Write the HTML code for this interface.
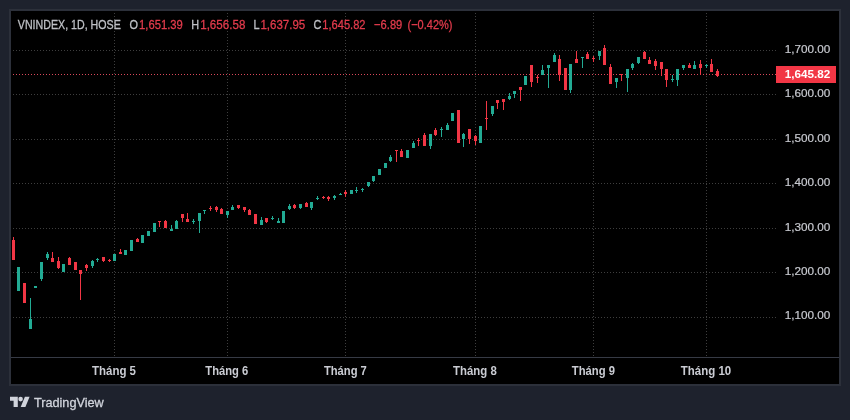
<!DOCTYPE html>
<html><head><meta charset="utf-8">
<style>
html,body{margin:0;padding:0;}
body{width:850px;height:420px;background:#1e222d;position:relative;overflow:hidden;font-family:"Liberation Sans",sans-serif;}
#panel{position:absolute;left:9px;top:9px;width:828px;height:373px;border:2px solid #2c303a;background:#000;}
svg{position:absolute;left:0;top:0;will-change:transform;}
svg text{font-family:"Liberation Sans",sans-serif;}
</style></head><body>
<div id="panel"></div>
<svg width="850" height="420" viewBox="0 0 850 420">
<line x1="13" y1="50.5" x2="776" y2="50.5" stroke="#3e3e3e" stroke-width="1" stroke-dasharray="1 2"/>
<line x1="13" y1="94.5" x2="776" y2="94.5" stroke="#3e3e3e" stroke-width="1" stroke-dasharray="1 2"/>
<line x1="13" y1="139.5" x2="776" y2="139.5" stroke="#3e3e3e" stroke-width="1" stroke-dasharray="1 2"/>
<line x1="13" y1="183.5" x2="776" y2="183.5" stroke="#3e3e3e" stroke-width="1" stroke-dasharray="1 2"/>
<line x1="13" y1="228.5" x2="776" y2="228.5" stroke="#3e3e3e" stroke-width="1" stroke-dasharray="1 2"/>
<line x1="13" y1="272.5" x2="776" y2="272.5" stroke="#3e3e3e" stroke-width="1" stroke-dasharray="1 2"/>
<line x1="13" y1="317.5" x2="776" y2="317.5" stroke="#3e3e3e" stroke-width="1" stroke-dasharray="1 2"/>
<line x1="114.5" y1="13" x2="114.5" y2="357" stroke="#3e3e3e" stroke-width="1" stroke-dasharray="1 2"/>
<line x1="227.5" y1="13" x2="227.5" y2="357" stroke="#3e3e3e" stroke-width="1" stroke-dasharray="1 2"/>
<line x1="345.5" y1="13" x2="345.5" y2="357" stroke="#3e3e3e" stroke-width="1" stroke-dasharray="1 2"/>
<line x1="475.5" y1="13" x2="475.5" y2="357" stroke="#3e3e3e" stroke-width="1" stroke-dasharray="1 2"/>
<line x1="593.5" y1="13" x2="593.5" y2="357" stroke="#3e3e3e" stroke-width="1" stroke-dasharray="1 2"/>
<line x1="706.5" y1="13" x2="706.5" y2="357" stroke="#3e3e3e" stroke-width="1" stroke-dasharray="1 2"/>
<line x1="13" y1="74.5" x2="776" y2="74.5" stroke="#d9485a" stroke-width="1" stroke-dasharray="1 2"/>
<rect x="13" y="237" width="1" height="23" fill="#f23645"/>
<rect x="12" y="240" width="3" height="20" fill="#f23645"/>
<rect x="18" y="267" width="1" height="24" fill="#22ab94"/>
<rect x="17" y="267" width="3" height="24" fill="#22ab94"/>
<rect x="24" y="283" width="1" height="20" fill="#f23645"/>
<rect x="23" y="283" width="3" height="20" fill="#f23645"/>
<rect x="30" y="298" width="1" height="31" fill="#22ab94"/>
<rect x="29" y="319" width="3" height="10" fill="#22ab94"/>
<rect x="35" y="286" width="1" height="2" fill="#22ab94"/>
<rect x="34" y="286" width="3" height="2" fill="#22ab94"/>
<rect x="41" y="262" width="1" height="19" fill="#22ab94"/>
<rect x="40" y="262" width="3" height="17" fill="#22ab94"/>
<rect x="47" y="252" width="1" height="8" fill="#22ab94"/>
<rect x="46" y="254" width="3" height="4" fill="#22ab94"/>
<rect x="52" y="252" width="1" height="10" fill="#f23645"/>
<rect x="51" y="258" width="3" height="4" fill="#f23645"/>
<rect x="58" y="257" width="1" height="12" fill="#f23645"/>
<rect x="57" y="261" width="3" height="7" fill="#f23645"/>
<rect x="63" y="264" width="1" height="8" fill="#22ab94"/>
<rect x="62" y="264" width="3" height="8" fill="#22ab94"/>
<rect x="69" y="257" width="1" height="8" fill="#f23645"/>
<rect x="68" y="258" width="3" height="7" fill="#f23645"/>
<rect x="75" y="262" width="1" height="8" fill="#f23645"/>
<rect x="74" y="262" width="3" height="8" fill="#f23645"/>
<rect x="80" y="270" width="1" height="30" fill="#f23645"/>
<rect x="79" y="270" width="3" height="4" fill="#f23645"/>
<rect x="86" y="264" width="1" height="7" fill="#f23645"/>
<rect x="85" y="265" width="3" height="3" fill="#f23645"/>
<rect x="92" y="260" width="1" height="8" fill="#22ab94"/>
<rect x="91" y="261" width="3" height="5" fill="#22ab94"/>
<rect x="97" y="258" width="1" height="4" fill="#22ab94"/>
<rect x="96" y="259" width="3" height="1" fill="#22ab94"/>
<rect x="103" y="257" width="1" height="5" fill="#f23645"/>
<rect x="102" y="257" width="3" height="4" fill="#f23645"/>
<rect x="109" y="259" width="1" height="3" fill="#f23645"/>
<rect x="108" y="260" width="3" height="1" fill="#f23645"/>
<rect x="114" y="254" width="1" height="7" fill="#22ab94"/>
<rect x="113" y="254" width="3" height="7" fill="#22ab94"/>
<rect x="120" y="249" width="1" height="5" fill="#f23645"/>
<rect x="119" y="252" width="3" height="2" fill="#f23645"/>
<rect x="125" y="250" width="1" height="5" fill="#22ab94"/>
<rect x="124" y="250" width="3" height="5" fill="#22ab94"/>
<rect x="131" y="240" width="1" height="11" fill="#22ab94"/>
<rect x="130" y="240" width="3" height="11" fill="#22ab94"/>
<rect x="137" y="238" width="1" height="4" fill="#f23645"/>
<rect x="136" y="239" width="3" height="3" fill="#f23645"/>
<rect x="142" y="235" width="1" height="8" fill="#22ab94"/>
<rect x="141" y="235" width="3" height="8" fill="#22ab94"/>
<rect x="148" y="231" width="1" height="5" fill="#22ab94"/>
<rect x="147" y="231" width="3" height="5" fill="#22ab94"/>
<rect x="154" y="223" width="1" height="9" fill="#22ab94"/>
<rect x="153" y="223" width="3" height="9" fill="#22ab94"/>
<rect x="159" y="221" width="1" height="6" fill="#f23645"/>
<rect x="158" y="221" width="3" height="1" fill="#f23645"/>
<rect x="165" y="220" width="1" height="8" fill="#f23645"/>
<rect x="164" y="221" width="3" height="7" fill="#f23645"/>
<rect x="171" y="225" width="1" height="6" fill="#22ab94"/>
<rect x="170" y="229" width="3" height="2" fill="#22ab94"/>
<rect x="176" y="220" width="1" height="9" fill="#22ab94"/>
<rect x="175" y="221" width="3" height="8" fill="#22ab94"/>
<rect x="182" y="214" width="1" height="8" fill="#f23645"/>
<rect x="181" y="214" width="3" height="4" fill="#f23645"/>
<rect x="187" y="213" width="1" height="9" fill="#f23645"/>
<rect x="186" y="219" width="3" height="3" fill="#f23645"/>
<rect x="193" y="219" width="1" height="5" fill="#22ab94"/>
<rect x="192" y="221" width="3" height="1" fill="#22ab94"/>
<rect x="199" y="213" width="1" height="20" fill="#22ab94"/>
<rect x="198" y="213" width="3" height="8" fill="#22ab94"/>
<rect x="204" y="210" width="1" height="4" fill="#22ab94"/>
<rect x="203" y="210" width="3" height="1" fill="#22ab94"/>
<rect x="210" y="206" width="1" height="5" fill="#f23645"/>
<rect x="209" y="208" width="3" height="1" fill="#f23645"/>
<rect x="216" y="206" width="1" height="6" fill="#f23645"/>
<rect x="215" y="207" width="3" height="3" fill="#f23645"/>
<rect x="221" y="208" width="1" height="6" fill="#f23645"/>
<rect x="220" y="209" width="3" height="5" fill="#f23645"/>
<rect x="227" y="211" width="1" height="7" fill="#22ab94"/>
<rect x="226" y="211" width="3" height="4" fill="#22ab94"/>
<rect x="232" y="205" width="1" height="5" fill="#22ab94"/>
<rect x="231" y="207" width="3" height="3" fill="#22ab94"/>
<rect x="238" y="205" width="1" height="4" fill="#f23645"/>
<rect x="237" y="205" width="3" height="3" fill="#f23645"/>
<rect x="244" y="207" width="1" height="5" fill="#f23645"/>
<rect x="243" y="207" width="3" height="3" fill="#f23645"/>
<rect x="249" y="209" width="1" height="6" fill="#f23645"/>
<rect x="248" y="210" width="3" height="5" fill="#f23645"/>
<rect x="255" y="214" width="1" height="10" fill="#f23645"/>
<rect x="254" y="214" width="3" height="10" fill="#f23645"/>
<rect x="261" y="217" width="1" height="8" fill="#22ab94"/>
<rect x="260" y="220" width="3" height="5" fill="#22ab94"/>
<rect x="266" y="218" width="1" height="5" fill="#f23645"/>
<rect x="265" y="218" width="3" height="4" fill="#f23645"/>
<rect x="272" y="216" width="1" height="4" fill="#22ab94"/>
<rect x="271" y="218" width="3" height="1" fill="#22ab94"/>
<rect x="278" y="218" width="1" height="5" fill="#22ab94"/>
<rect x="277" y="221" width="3" height="2" fill="#22ab94"/>
<rect x="283" y="211" width="1" height="12" fill="#22ab94"/>
<rect x="282" y="211" width="3" height="12" fill="#22ab94"/>
<rect x="289" y="204" width="1" height="6" fill="#22ab94"/>
<rect x="288" y="206" width="3" height="3" fill="#22ab94"/>
<rect x="294" y="204" width="1" height="5" fill="#f23645"/>
<rect x="293" y="205" width="3" height="3" fill="#f23645"/>
<rect x="300" y="204" width="1" height="5" fill="#22ab94"/>
<rect x="299" y="204" width="3" height="4" fill="#22ab94"/>
<rect x="306" y="202" width="1" height="5" fill="#f23645"/>
<rect x="305" y="203" width="3" height="4" fill="#f23645"/>
<rect x="311" y="202" width="1" height="8" fill="#22ab94"/>
<rect x="310" y="202" width="3" height="6" fill="#22ab94"/>
<rect x="317" y="196" width="1" height="4" fill="#22ab94"/>
<rect x="316" y="198" width="3" height="1" fill="#22ab94"/>
<rect x="323" y="196" width="1" height="3" fill="#f23645"/>
<rect x="322" y="197" width="3" height="1" fill="#f23645"/>
<rect x="328" y="196" width="1" height="5" fill="#f23645"/>
<rect x="327" y="197" width="3" height="2" fill="#f23645"/>
<rect x="334" y="195" width="1" height="5" fill="#22ab94"/>
<rect x="333" y="196" width="3" height="2" fill="#22ab94"/>
<rect x="340" y="193" width="1" height="2" fill="#22ab94"/>
<rect x="339" y="194" width="3" height="1" fill="#22ab94"/>
<rect x="345" y="190" width="1" height="7" fill="#f23645"/>
<rect x="344" y="192" width="3" height="2" fill="#f23645"/>
<rect x="351" y="190" width="1" height="4" fill="#22ab94"/>
<rect x="350" y="190" width="3" height="4" fill="#22ab94"/>
<rect x="356" y="187" width="1" height="6" fill="#22ab94"/>
<rect x="355" y="190" width="3" height="1" fill="#22ab94"/>
<rect x="362" y="188" width="1" height="4" fill="#22ab94"/>
<rect x="361" y="189" width="3" height="1" fill="#22ab94"/>
<rect x="368" y="182" width="1" height="5" fill="#22ab94"/>
<rect x="367" y="182" width="3" height="4" fill="#22ab94"/>
<rect x="373" y="176" width="1" height="6" fill="#22ab94"/>
<rect x="372" y="176" width="3" height="5" fill="#22ab94"/>
<rect x="379" y="169" width="1" height="6" fill="#22ab94"/>
<rect x="378" y="169" width="3" height="6" fill="#22ab94"/>
<rect x="385" y="163" width="1" height="5" fill="#22ab94"/>
<rect x="384" y="163" width="3" height="5" fill="#22ab94"/>
<rect x="390" y="155" width="1" height="7" fill="#22ab94"/>
<rect x="389" y="157" width="3" height="4" fill="#22ab94"/>
<rect x="396" y="150" width="1" height="12" fill="#f23645"/>
<rect x="395" y="150" width="3" height="1" fill="#f23645"/>
<rect x="401" y="149" width="1" height="8" fill="#f23645"/>
<rect x="400" y="151" width="3" height="6" fill="#f23645"/>
<rect x="407" y="150" width="1" height="8" fill="#22ab94"/>
<rect x="406" y="150" width="3" height="8" fill="#22ab94"/>
<rect x="413" y="141" width="1" height="7" fill="#22ab94"/>
<rect x="412" y="143" width="3" height="5" fill="#22ab94"/>
<rect x="418" y="138" width="1" height="8" fill="#f23645"/>
<rect x="417" y="140" width="3" height="1" fill="#f23645"/>
<rect x="424" y="133" width="1" height="13" fill="#f23645"/>
<rect x="423" y="135" width="3" height="11" fill="#f23645"/>
<rect x="430" y="134" width="1" height="15" fill="#22ab94"/>
<rect x="429" y="134" width="3" height="12" fill="#22ab94"/>
<rect x="435" y="128" width="1" height="8" fill="#f23645"/>
<rect x="434" y="130" width="3" height="5" fill="#f23645"/>
<rect x="441" y="127" width="1" height="10" fill="#22ab94"/>
<rect x="440" y="129" width="3" height="1" fill="#22ab94"/>
<rect x="447" y="123" width="1" height="7" fill="#22ab94"/>
<rect x="446" y="125" width="3" height="5" fill="#22ab94"/>
<rect x="452" y="113" width="1" height="8" fill="#22ab94"/>
<rect x="451" y="113" width="3" height="8" fill="#22ab94"/>
<rect x="458" y="110" width="1" height="33" fill="#f23645"/>
<rect x="457" y="110" width="3" height="33" fill="#f23645"/>
<rect x="463" y="133" width="1" height="14" fill="#22ab94"/>
<rect x="462" y="134" width="3" height="5" fill="#22ab94"/>
<rect x="469" y="129" width="1" height="15" fill="#f23645"/>
<rect x="468" y="129" width="3" height="10" fill="#f23645"/>
<rect x="475" y="135" width="1" height="10" fill="#f23645"/>
<rect x="474" y="136" width="3" height="5" fill="#f23645"/>
<rect x="480" y="126" width="1" height="17" fill="#22ab94"/>
<rect x="479" y="126" width="3" height="17" fill="#22ab94"/>
<rect x="486" y="101" width="1" height="29" fill="#f23645"/>
<rect x="485" y="118" width="3" height="1" fill="#f23645"/>
<rect x="492" y="106" width="1" height="10" fill="#22ab94"/>
<rect x="491" y="106" width="3" height="8" fill="#22ab94"/>
<rect x="497" y="100" width="1" height="9" fill="#f23645"/>
<rect x="496" y="100" width="3" height="3" fill="#f23645"/>
<rect x="503" y="99" width="1" height="11" fill="#f23645"/>
<rect x="502" y="99" width="3" height="3" fill="#f23645"/>
<rect x="509" y="93" width="1" height="7" fill="#22ab94"/>
<rect x="508" y="96" width="3" height="3" fill="#22ab94"/>
<rect x="514" y="91" width="1" height="7" fill="#22ab94"/>
<rect x="513" y="91" width="3" height="3" fill="#22ab94"/>
<rect x="520" y="87" width="1" height="14" fill="#f23645"/>
<rect x="519" y="87" width="3" height="3" fill="#f23645"/>
<rect x="525" y="76" width="1" height="9" fill="#22ab94"/>
<rect x="524" y="76" width="3" height="9" fill="#22ab94"/>
<rect x="531" y="65" width="1" height="22" fill="#f23645"/>
<rect x="530" y="65" width="3" height="17" fill="#f23645"/>
<rect x="537" y="75" width="1" height="8" fill="#f23645"/>
<rect x="536" y="77" width="3" height="1" fill="#f23645"/>
<rect x="542" y="65" width="1" height="10" fill="#22ab94"/>
<rect x="541" y="70" width="3" height="5" fill="#22ab94"/>
<rect x="548" y="65" width="1" height="23" fill="#22ab94"/>
<rect x="547" y="65" width="3" height="3" fill="#22ab94"/>
<rect x="554" y="53" width="1" height="9" fill="#22ab94"/>
<rect x="553" y="55" width="3" height="7" fill="#22ab94"/>
<rect x="559" y="55" width="1" height="26" fill="#f23645"/>
<rect x="558" y="59" width="3" height="16" fill="#f23645"/>
<rect x="565" y="68" width="1" height="22" fill="#f23645"/>
<rect x="564" y="68" width="3" height="22" fill="#f23645"/>
<rect x="570" y="64" width="1" height="29" fill="#22ab94"/>
<rect x="569" y="64" width="3" height="26" fill="#22ab94"/>
<rect x="576" y="51" width="1" height="12" fill="#f23645"/>
<rect x="575" y="59" width="3" height="4" fill="#f23645"/>
<rect x="582" y="57" width="1" height="11" fill="#22ab94"/>
<rect x="581" y="57" width="3" height="1" fill="#22ab94"/>
<rect x="587" y="52" width="1" height="7" fill="#f23645"/>
<rect x="586" y="54" width="3" height="5" fill="#f23645"/>
<rect x="593" y="56" width="1" height="6" fill="#f23645"/>
<rect x="592" y="58" width="3" height="1" fill="#f23645"/>
<rect x="599" y="51" width="1" height="9" fill="#22ab94"/>
<rect x="598" y="51" width="3" height="5" fill="#22ab94"/>
<rect x="604" y="45" width="1" height="20" fill="#f23645"/>
<rect x="603" y="48" width="3" height="17" fill="#f23645"/>
<rect x="610" y="64" width="1" height="20" fill="#f23645"/>
<rect x="609" y="67" width="3" height="17" fill="#f23645"/>
<rect x="616" y="78" width="1" height="10" fill="#22ab94"/>
<rect x="615" y="78" width="3" height="4" fill="#22ab94"/>
<rect x="621" y="74" width="1" height="7" fill="#f23645"/>
<rect x="620" y="74" width="3" height="1" fill="#f23645"/>
<rect x="627" y="69" width="1" height="23" fill="#22ab94"/>
<rect x="626" y="69" width="3" height="9" fill="#22ab94"/>
<rect x="632" y="63" width="1" height="7" fill="#22ab94"/>
<rect x="631" y="64" width="3" height="4" fill="#22ab94"/>
<rect x="638" y="57" width="1" height="7" fill="#22ab94"/>
<rect x="637" y="57" width="3" height="6" fill="#22ab94"/>
<rect x="644" y="51" width="1" height="8" fill="#f23645"/>
<rect x="643" y="52" width="3" height="7" fill="#f23645"/>
<rect x="649" y="57" width="1" height="7" fill="#f23645"/>
<rect x="648" y="60" width="3" height="4" fill="#f23645"/>
<rect x="655" y="59" width="1" height="11" fill="#f23645"/>
<rect x="654" y="61" width="3" height="5" fill="#f23645"/>
<rect x="661" y="62" width="1" height="14" fill="#f23645"/>
<rect x="660" y="62" width="3" height="7" fill="#f23645"/>
<rect x="666" y="69" width="1" height="18" fill="#f23645"/>
<rect x="665" y="69" width="3" height="11" fill="#f23645"/>
<rect x="672" y="75" width="1" height="7" fill="#22ab94"/>
<rect x="671" y="79" width="3" height="1" fill="#22ab94"/>
<rect x="677" y="69" width="1" height="17" fill="#22ab94"/>
<rect x="676" y="69" width="3" height="11" fill="#22ab94"/>
<rect x="683" y="65" width="1" height="5" fill="#22ab94"/>
<rect x="682" y="65" width="3" height="3" fill="#22ab94"/>
<rect x="689" y="63" width="1" height="5" fill="#f23645"/>
<rect x="688" y="65" width="3" height="3" fill="#f23645"/>
<rect x="694" y="61" width="1" height="8" fill="#22ab94"/>
<rect x="693" y="65" width="3" height="4" fill="#22ab94"/>
<rect x="700" y="60" width="1" height="15" fill="#f23645"/>
<rect x="699" y="64" width="3" height="4" fill="#f23645"/>
<rect x="706" y="64" width="1" height="4" fill="#22ab94"/>
<rect x="705" y="65" width="3" height="1" fill="#22ab94"/>
<rect x="711" y="59" width="1" height="13" fill="#f23645"/>
<rect x="710" y="64" width="3" height="8" fill="#f23645"/>
<rect x="717" y="69" width="1" height="8" fill="#f23645"/>
<rect x="716" y="71" width="3" height="5" fill="#f23645"/>
<rect x="11" y="357" width="828" height="1" fill="#363a45"/>
<text x="0" y="0" transform="translate(784.70,52.90) scale(1.0209,1)" fill="#c8cad0" stroke="#c8cad0" stroke-width="0.2" font-size="11.5" font-weight="normal">1,700.00</text>
<text x="0" y="0" transform="translate(784.70,97.33) scale(1.0209,1)" fill="#c8cad0" stroke="#c8cad0" stroke-width="0.2" font-size="11.5" font-weight="normal">1,600.00</text>
<text x="0" y="0" transform="translate(784.70,141.76) scale(1.0209,1)" fill="#c8cad0" stroke="#c8cad0" stroke-width="0.2" font-size="11.5" font-weight="normal">1,500.00</text>
<text x="0" y="0" transform="translate(784.70,186.19) scale(1.0209,1)" fill="#c8cad0" stroke="#c8cad0" stroke-width="0.2" font-size="11.5" font-weight="normal">1,400.00</text>
<text x="0" y="0" transform="translate(784.70,230.62) scale(1.0209,1)" fill="#c8cad0" stroke="#c8cad0" stroke-width="0.2" font-size="11.5" font-weight="normal">1,300.00</text>
<text x="0" y="0" transform="translate(784.70,275.05) scale(1.0209,1)" fill="#c8cad0" stroke="#c8cad0" stroke-width="0.2" font-size="11.5" font-weight="normal">1,200.00</text>
<text x="0" y="0" transform="translate(784.70,319.48) scale(1.0209,1)" fill="#c8cad0" stroke="#c8cad0" stroke-width="0.2" font-size="11.5" font-weight="normal">1,100.00</text>
<rect x="776" y="66" width="60" height="17" fill="#f23645"/>
<text x="0" y="0" transform="translate(784.80,77.70) scale(1.0187,1)" fill="#ffffff" font-size="11.5" font-weight="bold">1,645.82</text>
<text x="0" y="0" transform="translate(92.00,375.00) scale(0.8829,1)" fill="#caccd3" font-size="13" font-weight="bold">Tháng 5</text>
<text x="0" y="0" transform="translate(205.30,375.00) scale(0.8628,1)" fill="#caccd3" font-size="13" font-weight="bold">Tháng 6</text>
<text x="0" y="0" transform="translate(323.90,375.00) scale(0.8628,1)" fill="#caccd3" font-size="13" font-weight="bold">Tháng 7</text>
<text x="0" y="0" transform="translate(453.10,375.00) scale(0.8769,1)" fill="#caccd3" font-size="13" font-weight="bold">Tháng 8</text>
<text x="0" y="0" transform="translate(571.80,375.00) scale(0.8669,1)" fill="#caccd3" font-size="13" font-weight="bold">Tháng 9</text>
<text x="0" y="0" transform="translate(680.80,375.00) scale(0.8832,1)" fill="#caccd3" font-size="13" font-weight="bold">Tháng 10</text>
<text x="0" y="0" transform="translate(17.80,28.70) scale(0.8202,1)" fill="#bfc1c6" stroke="#bfc1c6" stroke-width="0.3" font-size="13" font-weight="normal">VNINDEX, 1D, HOSE</text>
<text x="0" y="0" transform="translate(129.60,28.70) scale(0.8400,1)" fill="#bfc1c6" stroke="#bfc1c6" stroke-width="0.3" font-size="13" font-weight="normal">O</text>
<text x="0" y="0" transform="translate(139.09,28.70) scale(0.8657,1)" fill="#e23b4c" stroke="#e23b4c" stroke-width="0.3" font-size="13" font-weight="normal">1,651.39</text>
<text x="0" y="0" transform="translate(191.30,28.70) scale(0.8400,1)" fill="#bfc1c6" stroke="#bfc1c6" stroke-width="0.3" font-size="13" font-weight="normal">H</text>
<text x="0" y="0" transform="translate(200.19,28.70) scale(0.8935,1)" fill="#e23b4c" stroke="#e23b4c" stroke-width="0.3" font-size="13" font-weight="normal">1,656.58</text>
<text x="0" y="0" transform="translate(253.40,28.70) scale(0.8400,1)" fill="#bfc1c6" stroke="#bfc1c6" stroke-width="0.3" font-size="13" font-weight="normal">L</text>
<text x="0" y="0" transform="translate(260.47,28.70) scale(0.8858,1)" fill="#e23b4c" stroke="#e23b4c" stroke-width="0.3" font-size="13" font-weight="normal">1,637.95</text>
<text x="0" y="0" transform="translate(313.40,28.70) scale(0.8400,1)" fill="#bfc1c6" stroke="#bfc1c6" stroke-width="0.3" font-size="13" font-weight="normal">C</text>
<text x="0" y="0" transform="translate(322.29,28.70) scale(0.8559,1)" fill="#e23b4c" stroke="#e23b4c" stroke-width="0.3" font-size="13" font-weight="normal">1,645.82</text>
<text x="0" y="0" transform="translate(374.10,28.70) scale(0.8573,1)" fill="#e23b4c" stroke="#e23b4c" stroke-width="0.3" font-size="13" font-weight="normal">−6.89</text>
<text x="0" y="0" transform="translate(407.50,28.70) scale(0.8473,1)" fill="#e23b4c" stroke="#e23b4c" stroke-width="0.3" font-size="13" font-weight="normal">(−0.42%)</text>
<text x="0" y="0" transform="translate(33.90,406.80) scale(0.9619,1)" fill="#d1d4dc" stroke="#d1d4dc" stroke-width="0.3" font-size="13.2" font-weight="normal">TradingView</text>
<g fill="#d1d4dc"><path d="M10 396.8H17.8V407H13.6V400.7H10Z"/><circle cx="20.6" cy="399.1" r="2.3"/><path d="M24.9 396.8H29.6L25.4 407H20.7Z"/></g>
</svg>
</body></html>
